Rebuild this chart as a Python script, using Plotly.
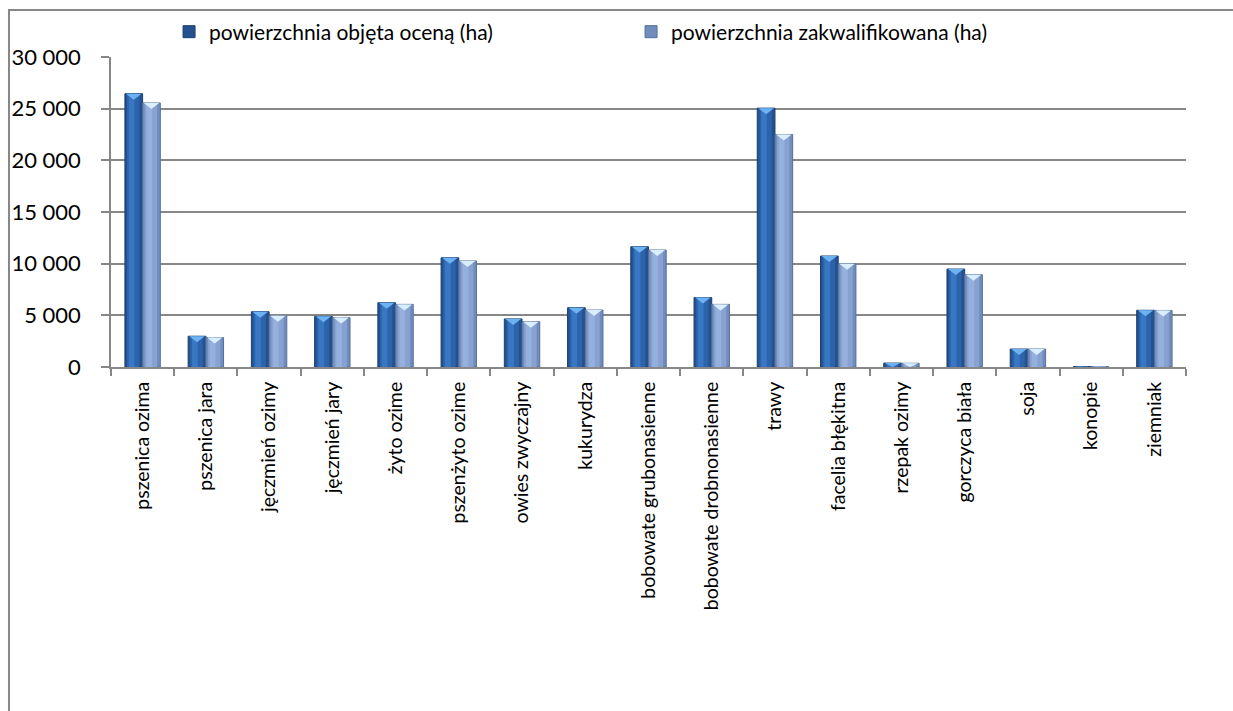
import plotly.graph_objects as go

# Categories (seed crops) and the two area series in hectares
kategorie = [
    "pszenica ozima", "pszenica jara", "jęczmień ozimy", "jęczmień jary",
    "żyto ozime", "pszenżyto ozime", "owies zwyczajny", "kukurydza",
    "bobowate grubonasienne", "bobowate drobnonasienne", "trawy",
    "facelia błękitna", "rzepak ozimy", "gorczyca biała", "soja",
    "konopie", "ziemniak",
]
pow_oceniona = [26450, 2980, 5350, 4900, 6220, 10570, 4650, 5740,
                11640, 6720, 25050, 10740, 380, 9480, 1740, 40, 5490]
pow_zakwalifikowana = [25550, 2850, 4960, 4780, 6060, 10260, 4390, 5510,
                       11320, 6060, 22500, 9980, 360, 8930, 1740, 30, 5470]

NAZWA_1 = "powierzchnia objęta oceną (ha)"
NAZWA_2 = "powierzchnia zakwalifikowana (ha)"

Y_MAX = 30000
PLOT_H = 310           # pixel height of plotting area
UNIT_PER_PX = Y_MAX / PLOT_H
BAR_W = 0.28
GRID = "#878787"
FONT = "Lato"

idx = list(range(len(kategorie)))

fig = go.Figure()


def add_series(values, offset, name, edge, mid, centre, tri, outline):
    # base bar (edge shade) carries the legend entry
    fig.add_trace(go.Bar(
        x=idx, y=values, width=BAR_W, offset=offset, name=name,
        marker=dict(color=edge, line=dict(color=outline, width=1)),
        showlegend=True, hoverinfo="skip",
    ))
    # inner lighter strips give the cylinder-like shading
    fig.add_trace(go.Bar(
        x=idx, y=values, width=BAR_W * 0.70, offset=offset + BAR_W * 0.12,
        marker=dict(color=mid, line=dict(width=0)),
        showlegend=False, hoverinfo="skip",
    ))
    fig.add_trace(go.Bar(
        x=idx, y=values, width=BAR_W * 0.32, offset=offset + BAR_W * 0.22,
        marker=dict(color=centre, line=dict(width=0)),
        showlegend=False, hoverinfo="skip",
    ))
    # bevel triangle at the top of every bar
    xs, ys = [], []
    for i, v in zip(idx, values):
        depth = min(6 * UNIT_PER_PX, v)
        left = i + offset + BAR_W * 0.06
        right = i + offset + BAR_W * 0.94
        mid_x = i + offset + BAR_W / 2
        xs += [left, right, mid_x, left, None]
        ys += [v, v, v - depth, v, None]
    fig.add_trace(go.Scatter(
        x=xs, y=ys, mode="lines", fill="toself", fillcolor=tri,
        line=dict(width=0, color=tri), showlegend=False, hoverinfo="skip",
    ))


add_series(pow_oceniona, -BAR_W, NAZWA_1,
           "#24528f", "#2d63aa", "#3877c3", "#6db2f2", "#1c3f70")
add_series(pow_zakwalifikowana, 0.0, NAZWA_2,
           "#708dbe", "#87a2d0", "#96b0dd", "#d9eeff", "#55709c")

# chart frame: left and top edges as one open path
fig.add_shape(type="path", xref="paper", yref="paper",
              path="M -0.0949,-1.11 L -0.0949,1.1516 L 1.0437,1.1516",
              line=dict(color=GRID, width=2), fillcolor="rgba(0,0,0,0)")

fig.update_layout(
    width=1233, height=711,
    margin=dict(l=111, r=47, t=57, b=344, pad=0),
    paper_bgcolor="white", plot_bgcolor="white",
    barmode="overlay",
    separators=". ",
    font=dict(family=FONT, color="black"),
    showlegend=True,
    legend=dict(
        orientation="h", x=0.054, y=1.0806, xanchor="left", yanchor="middle",
        font=dict(family=FONT, size=21, color="black"),
        entrywidth=417, entrywidthmode="pixels",
        maxheight=1,
        bgcolor="rgba(0,0,0,0)", itemclick=False, itemdoubleclick=False,
        traceorder="normal",
    ),
    xaxis=dict(
        range=[-0.5, len(kategorie) - 0.5],
        tickmode="array", tickvals=idx, ticktext=kategorie,
        tickangle=-90, ticks="", showgrid=False, zeroline=False,
        tickfont=dict(family=FONT, size=19.5, color="black"),
        showline=True, linecolor=GRID, linewidth=2,
        minor=dict(tickmode="linear", tick0=-0.5, dtick=1, ticks="outside",
                   ticklen=7, tickwidth=1.5, tickcolor=GRID, showgrid=False),
        ticklabelstandoff=5,
        fixedrange=True,
    ),
    yaxis=dict(
        range=[0, Y_MAX], tickmode="linear", tick0=0, dtick=5000,
        tickformat=",d",
        showgrid=True, gridcolor=GRID, gridwidth=1.5,
        zeroline=False,
        showline=True, linecolor=GRID, linewidth=1.5,
        ticks="outside", ticklen=8, tickwidth=1.5, tickcolor=GRID,
        ticklabelstandoff=16,
        tickfont=dict(family=FONT, size=22, color="black"),
        fixedrange=True,
    ),
)

# keep the page itself from scrolling
page_css = ("document.documentElement.style.overflow='hidden';"
            "document.body.style.overflow='hidden';"
            "document.body.style.margin='0';")

fig.write_html("out.html", config={"displayModeBar": False},
               post_script=page_css)
